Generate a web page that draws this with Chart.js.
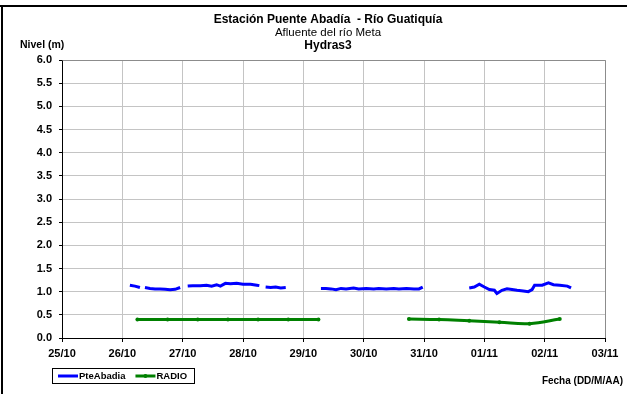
<!DOCTYPE html>
<html>
<head>
<meta charset="utf-8">
<script src="https://cdn.jsdelivr.net/npm/chart.js@4/dist/chart.umd.min.js"></script>
<style>
  html, body { margin: 0; padding: 0; background: #fff; }
  canvas { display: block; }
</style>
</head>
<body>
<canvas id="c" width="627" height="394"></canvas>
<script>
// Day tick labels (x axis runs in days counted from 25/10 00:00)
const dayLabels = ['25/10', '26/10', '27/10', '28/10', '29/10', '30/10', '31/10', '01/11', '02/11', '03/11'];
const levelTicks = [0, 0.5, 1, 1.5, 2, 2.5, 3, 3.5, 4, 4.5, 5, 5.5, 6];

// PteAbadia sensor readings (null = missing record)
const abadiaTimes = [
  '26/10 03:00', '26/10 05:00', '26/10 07:00', '26/10 08:00',
  '26/10 09:00', '26/10 11:00', '26/10 13:00', '26/10 15:00', '26/10 17:00', '26/10 19:00', '26/10 21:00', '26/10 23:00', '27/10 00:30',
  '27/10 02:00', '27/10 04:00', '27/10 07:00', '27/10 09:30', '27/10 11:30', '27/10 13:30', '27/10 15:00', '27/10 17:00', '27/10 19:00', '27/10 21:30', '28/10 00:00', '28/10 03:00', '28/10 05:30', '28/10 06:30', '28/10 07:30',
  '28/10 09:00', '28/10 11:00', '28/10 13:00', '28/10 15:00', '28/10 17:00', '29/10 00:00',
  '29/10 07:00', '29/10 09:00', '29/10 11:00', '29/10 13:00', '29/10 15:00', '29/10 17:00', '29/10 20:00', '29/10 22:00', '30/10 01:00', '30/10 04:00', '30/10 06:00', '30/10 09:00', '30/10 12:00', '30/10 14:00', '30/10 17:00', '30/10 20:00', '30/10 22:00', '30/10 23:30', '31/10 08:00',
  '31/10 18:00', '31/10 20:00', '31/10 22:00', '01/11 00:00', '01/11 02:00', '01/11 04:00', '01/11 05:00', '01/11 07:00', '01/11 09:00', '01/11 11:00', '01/11 13:00', '01/11 15:30', '01/11 17:30', '01/11 19:00', '01/11 20:00', '01/11 23:00', '02/11 01:30', '02/11 03:30', '02/11 06:00', '02/11 09:00', '02/11 10:30'
];
const abadiaLevels = [
  1.14, 1.12, 1.09, null,
  1.09, 1.07, 1.06, 1.06, 1.05, 1.04, 1.05, 1.09, null,
  1.12, 1.13, 1.13, 1.14, 1.12, 1.15, 1.12, 1.18, 1.17, 1.18, 1.16, 1.16, 1.14, 1.13, null,
  1.10, 1.09, 1.10, 1.08, 1.09, null,
  1.07, 1.07, 1.06, 1.04, 1.07, 1.06, 1.08, 1.06, 1.07, 1.06, 1.07, 1.06, 1.07, 1.06, 1.07, 1.06, 1.06, 1.10, null,
  1.08, 1.10, 1.16, 1.10, 1.045, 1.03, 0.96, 1.03, 1.06, 1.045, 1.03, 1.015, 1.00, 1.045, 1.14, 1.14, 1.19, 1.15, 1.14, 1.12, 1.08
];

// RADIO reports (twice a day)
const radioTimes = [
  '26/10 06:00', '26/10 18:00', '27/10 06:00', '27/10 18:00', '28/10 06:00', '28/10 18:00', '29/10 06:00', '30/10 00:00',
  '30/10 18:00', '31/10 06:00', '31/10 18:00', '01/11 06:00', '01/11 18:00', '02/11 06:00'
];
const radioLevels = [
  0.40, 0.40, 0.40, 0.40, 0.40, 0.40, 0.40, null,
  0.41, 0.40, 0.37, 0.34, 0.31, 0.41
];

const FONT = "'Liberation Sans', Arial, sans-serif";

// 'DD/MM HH:MM' -> days since the first tick day
function toDay(stamp) {
  const [d, t] = stamp.split(' ');
  const [h, m] = t.split(':').map(Number);
  return dayLabels.indexOf(d) + (h + m / 60) / 24;
}
function toPoints(times, values) {
  return times.map((t, i) => ({ x: toDay(t), y: values[i] }));
}

const frameAndText = {
  id: 'frameAndText',
  beforeDraw(chart) {
    const ctx = chart.ctx;
    ctx.save();
    ctx.fillStyle = '#fff';
    ctx.fillRect(0, 0, chart.width, chart.height);
    ctx.restore();
  },
  afterDraw(chart) {
    const ctx = chart.ctx;
    const a = chart.chartArea;
    ctx.save();
    // outer frame (left and top edges)
    ctx.fillStyle = '#000';
    ctx.fillRect(0, 5, chart.width, 2);
    ctx.fillRect(1, 5, 2, chart.height - 5);

    // plot border at top / right
    ctx.strokeStyle = '#8c8c8c';
    ctx.lineWidth = 1;
    ctx.beginPath();
    ctx.moveTo(Math.round(a.left) + 0.5, Math.round(a.top) + 0.5);
    ctx.lineTo(Math.round(a.right) + 0.5, Math.round(a.top) + 0.5);
    ctx.lineTo(Math.round(a.right) + 0.5, Math.round(a.bottom));
    ctx.stroke();

    // titles
    ctx.fillStyle = '#000';
    ctx.textAlign = 'center';
    ctx.textBaseline = 'middle';
    const cx = 328;
    ctx.font = 'bold 12px ' + FONT;
    ctx.fillText('Estación Puente Abadía  - Río Guatiquía', cx, 20);
    ctx.font = '11.5px ' + FONT;
    ctx.fillText('Afluente del río Meta', cx, 33);
    ctx.font = 'bold 12px ' + FONT;
    ctx.fillText('Hydras3', cx, 46);

    // axis titles
    ctx.font = 'bold 10.5px ' + FONT;
    ctx.textAlign = 'left';
    ctx.fillText('Nivel (m)', 20, 45);
    ctx.font = 'bold 10px ' + FONT;
    ctx.textAlign = 'right';
    ctx.fillText('Fecha (DD/M/AA)', 623, 381);

    // legend
    const bx = 52, by = 368, bw = 142, bh = 15;
    ctx.strokeStyle = '#000';
    ctx.lineWidth = 1;
    ctx.strokeRect(bx + 0.5, by + 0.5, bw, bh);
    ctx.textAlign = 'left';
    ctx.font = 'bold 9.5px ' + FONT;
    let x = bx + 6;
    const ly = by + bh / 2 + 0.5;
    chart.data.datasets.forEach(ds => {
      ctx.strokeStyle = ds.borderColor;
      ctx.lineWidth = 3;
      ctx.beginPath();
      ctx.moveTo(x, ly);
      ctx.lineTo(x + 20, ly);
      ctx.stroke();
      if (ds.pointRadius > 0) {
        ctx.fillStyle = ds.borderColor;
        ctx.beginPath();
        ctx.arc(x + 10, ly, 2, 0, Math.PI * 2);
        ctx.fill();
      }
      ctx.fillStyle = '#000';
      ctx.fillText(ds.label, x + 21, ly);
      x += 21 + ctx.measureText(ds.label).width + 10;
    });
    ctx.restore();
  }
};

new Chart(document.getElementById('c'), {
  type: 'line',
  data: {
    datasets: [
      {
        label: 'PteAbadia',
        data: toPoints(abadiaTimes, abadiaLevels),
        borderColor: '#0000ff',
        backgroundColor: '#0000ff',
        borderWidth: 3,
        pointRadius: 0,
        tension: 0,
        spanGaps: false
      },
      {
        label: 'RADIO',
        data: toPoints(radioTimes, radioLevels),
        borderColor: '#008000',
        backgroundColor: '#008000',
        borderWidth: 3,
        pointRadius: 2,
        pointBorderWidth: 0,
        tension: 0.4,
        spanGaps: false
      }
    ]
  },
  options: {
    responsive: false,
    animation: false,
    devicePixelRatio: 1,
    layout: { padding: { left: 0, top: 60, right: 22, bottom: 0 } },
    plugins: { legend: { display: false }, title: { display: false }, tooltip: { enabled: false } },
    scales: {
      x: {
        type: 'linear',
        min: 0,
        max: dayLabels.length - 1,
        afterFit(scale) { scale.height = 56; },
        afterBuildTicks(scale) { scale.ticks = dayLabels.map((_, i) => ({ value: i })); },
        ticks: {
          callback: v => dayLabels[v],
          autoSkip: false,
          maxRotation: 0,
          padding: 5,
          color: '#000',
          font: { family: FONT, size: 11, weight: 'bold' }
        },
        grid: { color: '#c4c4c4', tickColor: '#000', tickLength: 4, lineWidth: 1 },
        border: { color: '#000', width: 1 }
      },
      y: {
        min: 0,
        max: 6,
        afterFit(scale) { scale.width = 62; },
        afterBuildTicks(scale) { scale.ticks = levelTicks.map(v => ({ value: v })); },
        ticks: {
          callback: v => Number(v).toFixed(1),
          padding: 7,
          color: '#000',
          font: { family: FONT, size: 11, weight: 'bold' }
        },
        grid: { color: '#c4c4c4', tickColor: '#000', tickLength: 3, lineWidth: 1 },
        border: { color: '#000', width: 1 }
      }
    }
  },
  plugins: [frameAndText]
});
</script>
</body>
</html>
